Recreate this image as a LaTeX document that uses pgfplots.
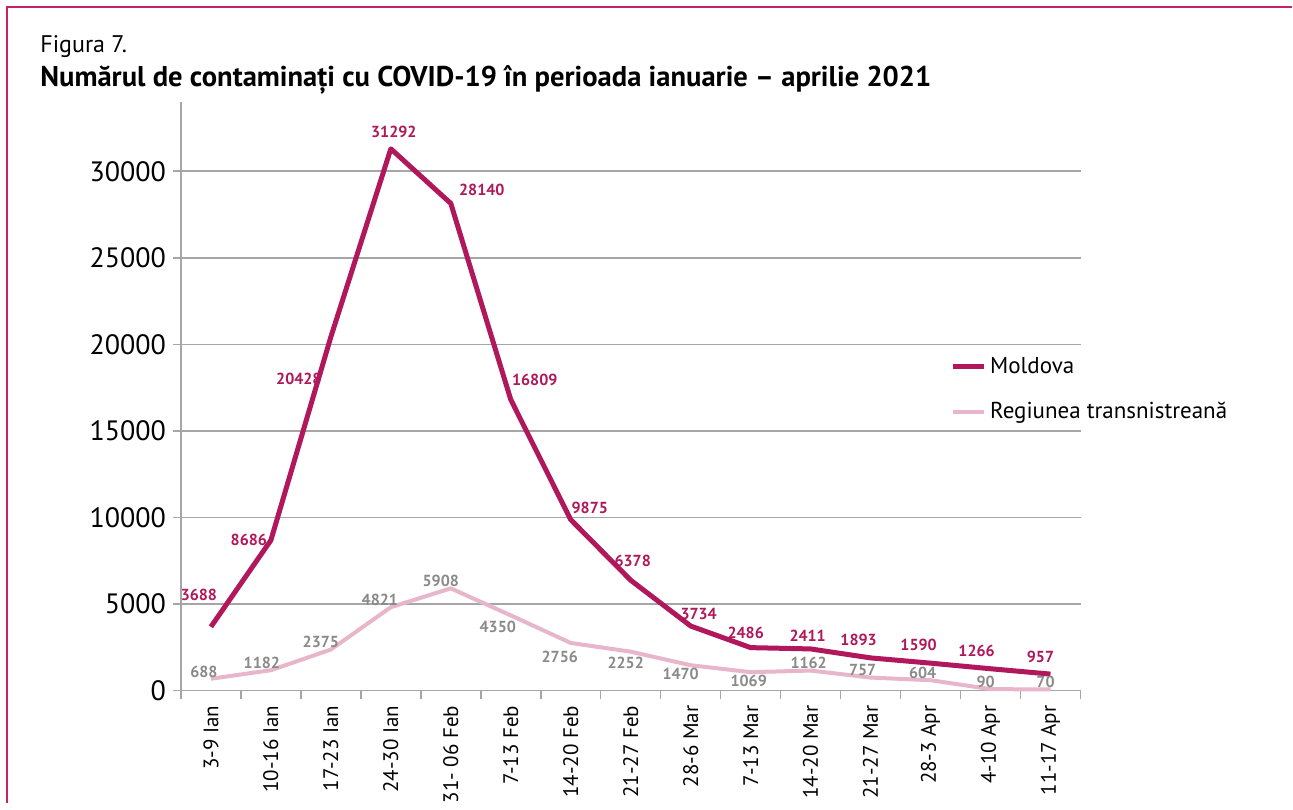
\documentclass[border=0pt]{standalone}
\usepackage{fontspec}
\setmainfont{PT Sans}
\usepackage{pgfplots}
\pgfplotsset{compat=1.18}
\definecolor{mold}{HTML}{B0185B}
\definecolor{trans}{HTML}{E8B6CA}
\definecolor{glab}{HTML}{8A8A8A}
\definecolor{gridc}{HTML}{A6A6A6}
\definecolor{framec}{HTML}{C4236A}
\pgfplotstableread{
x mold trans
0 3688 688
1 8686 1182
2 20428 2375
3 31292 4821
4 28140 5908
5 16809 4350
6 9875 2756
7 6378 2252
8 3734 1470
9 2486 1069
10 2411 1162
11 1893 757
12 1590 604
13 1266 90
14 957 70
}\datatab
\begin{document}
\begin{tikzpicture}
\path (0,0) rectangle (646.5pt,401.5pt);
\draw[framec, line width=0.6pt] (3.5pt,0) -- (3.5pt,398pt) -- (646.5pt,398pt);
\node[anchor=base west, inner sep=0, font=\fontsize{12}{12}\selectfont] at (20pt,375pt) {Figura 7.};
\node[anchor=base west, inner sep=0, font=\fontsize{14.3}{15}\selectfont\bfseries] at (20pt,358pt) {Numărul de contaminați cu COVID-19 în perioada ianuarie – aprilie 2021};
\begin{axis}[at={(90.5pt,56pt)}, anchor=south west, width=450pt, height=294.5pt, scale only axis,
  xmin=-0.5, xmax=14.5, ymin=0, ymax=34000,
  scaled ticks=false,
  axis x line*=bottom, axis y line*=left,
  axis line style={gridc, line width=0.75pt},
  ytick={0,5000,...,30000},
  ymajorgrids, grid style={gridc, line width=0.75pt},
  tick align=outside, major tick length=4pt,
  tick style={gridc, line width=0.75pt},
  xtick={-0.5,0.5,...,14.5},
  x tick label as interval,
  xticklabels={3-9 Ian,10-16 Ian,17-23 Ian,24-30 Ian,31- 06 Feb,7-13 Feb,14-20 Feb,21-27 Feb,28-6 Mar,7-13 Mar,14-20 Mar,21-27 Mar,28-3 Apr,4-10 Apr,11-17 Apr},
  xticklabel style={rotate=90, anchor=east, font=\fontsize{10.5}{11}\selectfont, text=black},
  yticklabel style={font=\fontsize{14}{14}\selectfont, text=black},
  /pgf/number format/assume math mode=true,
  /pgf/number format/1000 sep={},
  clip=false,
  legend style={at={(0.848,0.512)}, anchor=west, draw=none, fill=none, font=\fontsize{11.5}{12}\selectfont, row sep=9pt},
  legend cell align=left,
  legend image code/.code={\draw[#1] (0pt,0pt) -- (15.5pt,0pt);},
]
\addplot[mold, line width=2.5pt, line join=round] table[x=x, y=mold] {\datatab};
\addlegendentry{Moldova}
\addplot[trans, line width=2pt, line join=round] table[x=x, y=trans] {\datatab};
\addlegendentry{Regiunea transnistreană}
\begin{scope}[every node/.style={font=\fontsize{8}{8}\selectfont\bfseries, text=mold, inner sep=0pt}]
\node at (axis cs:-0.2,5538) {3688};
\node at (axis cs:0.633,8711) {8686};
\node at (axis cs:1.467,18000) {20428};
\node at (axis cs:3.05,32249) {31292};
\node at (axis cs:4.517,28903) {28140};
\node at (axis cs:5.4,17942) {16809};
\node at (axis cs:6.317,10557) {9875};
\node at (axis cs:7.033,7500) {6378};
\node at (axis cs:8.133,4442) {3734};
\node at (axis cs:8.917,3346) {2486};
\node at (axis cs:9.95,3173) {2411};
\node at (axis cs:10.8,2942) {1893};
\node at (axis cs:11.8,2654) {1590};
\node at (axis cs:12.767,2308) {1266};
\node at (axis cs:13.833,1961) {957};
\end{scope}
\begin{scope}[every node/.style={font=\fontsize{8}{8}\selectfont\bfseries, text=glab, inner sep=0pt}]
\node at (axis cs:-0.117,1096) {688};
\node at (axis cs:0.85,1615) {1182};
\node at (axis cs:1.833,2827) {2375};
\node at (axis cs:2.817,5250) {4821};
\node at (axis cs:3.833,6346) {5908};
\node at (axis cs:4.783,3692) {4350};
\node at (axis cs:5.817,1961) {2756};
\node at (axis cs:6.917,1615) {2252};
\node at (axis cs:7.833,981) {1470};
\node at (axis cs:8.967,577) {1069};
\node at (axis cs:9.967,1615) {1162};
\node at (axis cs:10.867,1211) {757};
\node at (axis cs:11.867,1038) {604};
\node at (axis cs:12.917,519) {90};
\node at (axis cs:13.917,519) {70};
\end{scope}
\end{axis}
\end{tikzpicture}
\end{document}
